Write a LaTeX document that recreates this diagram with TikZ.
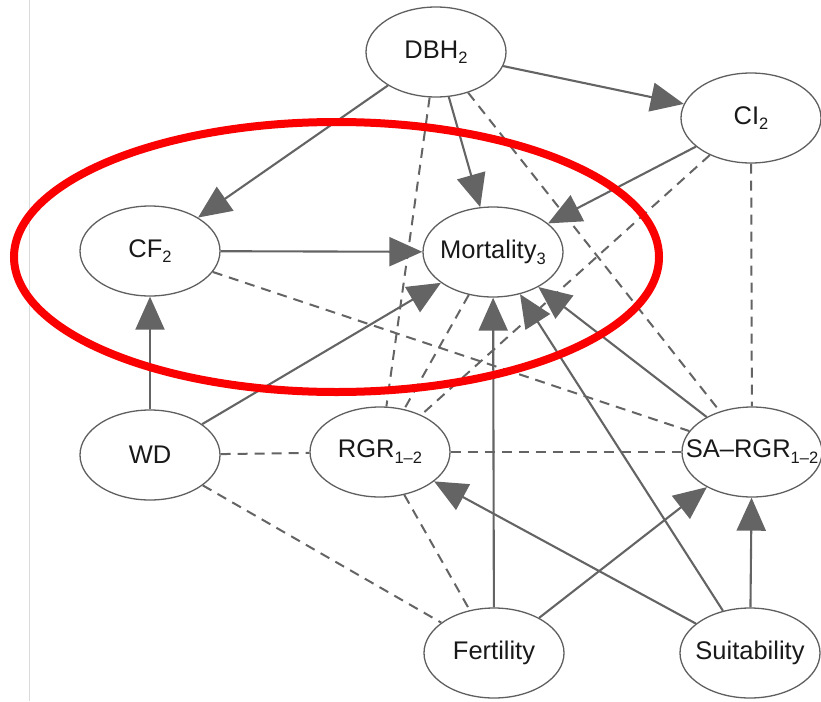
\documentclass[tikz,border=0pt]{standalone}
\usepackage{fontspec}
\setmainfont{Liberation Sans}
\usetikzlibrary{arrows.meta,shapes.geometric}
\definecolor{edgegray}{RGB}{100,100,100}
\definecolor{nodegray}{RGB}{95,95,95}
\definecolor{textblack}{RGB}{25,25,25}
\definecolor{sideline}{RGB}{218,218,218}
\definecolor{ringred}{RGB}{250,0,0}
\newcommand\lowsub[2]{\raisebox{#1}{\fontsize{16.5}{16.5}\selectfont #2}}
\begin{document}
\begin{tikzpicture}[x=1pt,y=-1pt,
  var/.style={draw=nodegray, line width=1.3pt, ellipse, minimum width=140pt,
    minimum height=90pt, inner sep=0pt, text=textblack,
    font=\fontsize{25.5}{25.5}\selectfont},
  arr/.style={draw=edgegray, line width=2.1pt,
    -{Triangle[length=33pt,width=29pt,fill=edgegray]}},
  dsh/.style={draw=edgegray, line width=2pt, dash pattern=on 10pt off 7pt},
]
\useasboundingbox (0,0) rectangle (821,701);
\draw[sideline, line width=1pt] (29.5,0) -- (29.5,701);

\node[var] (dbh)  at (436,52)  {\makebox[0pt]{DBH\lowsub{-5pt}{2}}};
\node[var] (ci)   at (751,118) {\makebox[0pt]{CI\lowsub{-5pt}{2}}};
\node[var] (cf)   at (150,251) {\makebox[0pt]{CF\lowsub{-5pt}{2}}};
\node[var] (mort) at (493,252) {\makebox[0pt]{Mortality\lowsub{-6pt}{3}}};
\node[var] (wd)   at (150,455) {\makebox[0pt]{WD}};
\node[var] (rgr)  at (380,452) {\makebox[0pt]{RGR\lowsub{-6pt}{1–2}}};
\node[var] (sargr) at (752,452) {\makebox[0pt]{SA–RGR\lowsub{-6pt}{1–2}}};
\node[var] (fert) at (494,653) {\makebox[0pt]{Fertility}};
\node[var] (suit) at (750,653) {\makebox[0pt]{Suitability}};

% dashed associations
\draw[dsh] (dbh) -- (rgr);
\draw[dsh] (dbh) -- (sargr);
\draw[dsh] (ci) -- (rgr);
\draw[dsh] (ci) -- (sargr);
\draw[dsh] (cf) -- (sargr);
\draw[dsh] (mort) -- (rgr);
\draw[dsh] (wd) -- (rgr);
\draw[dsh] (rgr) -- (sargr);
\draw[dsh] (wd) -- (fert);
\draw[dsh] (rgr) -- (fert);

% directed edges
\draw[arr] (dbh) -- (ci);
\draw[arr] (dbh) -- (cf);
\draw[arr] (dbh) -- (mort);
\draw[arr] (ci) -- (mort);
\draw[arr] (cf) -- (mort);
\draw[arr] (wd) -- (cf);
\draw[arr] (wd) -- (mort);
\draw[arr] (fert) -- (mort);
\draw[arr] (suit) -- (mort);
\draw[arr] (sargr) -- (mort);
\draw[arr] (suit) -- (rgr);
\draw[arr] (fert) -- (sargr);
\draw[arr] (suit) -- (sargr);

% highlight ring
\draw[ringred, line width=8pt] (336.5,257) ellipse [x radius=322.5pt, y radius=135pt];
\end{tikzpicture}
\end{document}
